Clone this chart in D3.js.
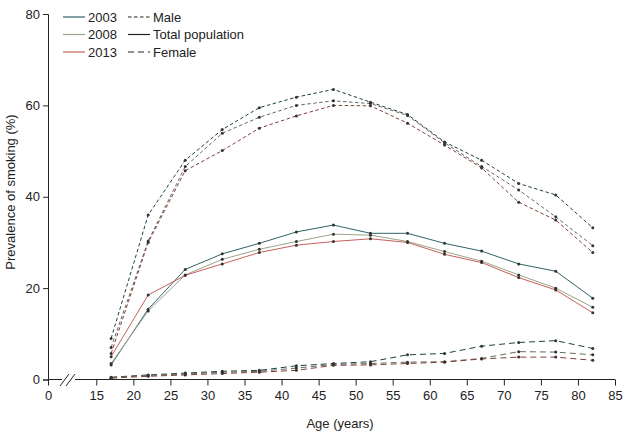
<!DOCTYPE html>
<html><head><meta charset="utf-8">
<script src="https://cdn.jsdelivr.net/npm/d3@7"></script>
<style>
body{margin:0;background:#fff;}
svg{display:block;}
text{font-family:"Liberation Sans",Arial,sans-serif;fill:#222;}
</style></head><body>
<svg id="c" width="640" height="441"></svg>
<script>
const ages = [17,22,27,32,37,42,47,52,57,62,67,72,77,82];
const years = ["2003","2008","2013"];
const yearColors = ["#2f6467","#9aa48c","#c8605a"];
const male2003 = [9.0,36.0,48.0,54.7,59.5,61.8,63.5,60.7,58.0,52.0,48.0,42.9,40.4,33.2];
const male2008 = [7.0,30.3,46.6,53.9,57.4,60.0,61.0,60.4,57.8,51.8,46.6,41.5,35.6,29.3];
const male2013 = [5.7,30.0,45.7,50.1,55.0,57.7,60.0,59.9,56.1,51.3,46.3,38.8,34.9,27.8];
const total2003 = [3.2,15.4,24.1,27.5,29.8,32.3,33.8,32.0,32.0,29.8,28.1,25.3,23.7,17.8];
const total2008 = [3.5,15.0,22.9,26.3,28.5,30.2,31.8,31.6,30.2,28.0,25.9,22.9,20.0,15.8];
const total2013 = [5.0,18.5,22.8,25.3,27.8,29.4,30.2,30.8,30.0,27.4,25.6,22.3,19.6,14.6];
const female2003 = [0.5,1.0,1.4,1.8,2.0,3.0,3.5,3.9,5.4,5.7,7.3,8.1,8.5,6.8];
const female2008 = [0.4,0.9,1.2,1.6,1.8,2.5,3.3,3.5,3.8,3.9,4.6,6.1,6.0,5.4];
const female2013 = [0.3,0.7,1.0,1.3,1.6,2.0,3.1,3.2,3.5,3.8,4.5,4.9,4.9,4.2];
const xTicks = [15,20,25,30,35,40,45,50,55,60,65,70,75,80,85];
const yTicks = [0,20,40,60,80];
const groups = ["Male","Total population","Female"];
const groupDash = ["3.5,2.5",null,"6,4"];

const svg = d3.select("#c");
const x = d3.scaleLinear().domain([15,85]).range([96.3,615]);
const x0 = d3.scaleLinear().domain([0,1]).range([48,85]);
const y = d3.scaleLinear().domain([0,80]).range([379.5,14]);

// y axis
const ya = svg.append("g").attr("transform","translate(48,0)")
  .call(d3.axisLeft(y).tickValues(yTicks).tickFormat(d3.format("d")).tickSize(5).tickPadding(3));
// x axis main
const xa = svg.append("g").attr("transform","translate(0,379.5)")
  .call(d3.axisBottom(x).tickValues(xTicks).tickFormat(d3.format("d")).tickSize(6).tickPadding(5));
xa.select(".domain").attr("d","M75,0H615");
const xz = svg.append("g").attr("transform","translate(0,379.5)")
  .call(d3.axisBottom(x0).tickValues([0]).tickFormat(d3.format("d")).tickSize(6).tickPadding(5));
xz.select(".domain").attr("d","M48,0H62");
svg.selectAll(".tick text").style("font-size","13px").style("font-family","'Liberation Sans',Arial,sans-serif").attr("fill","#222");
svg.selectAll(".domain, .tick line").attr("stroke","#222");
// break marks
[0,6].forEach(o=>{
  svg.append("line").attr("x1",60+o).attr("y1",386).attr("x2",69+o).attr("y2",374)
    .attr("stroke","#222").attr("stroke-width",1);
});

svg.append("text").attr("x",340).attr("y",428).attr("text-anchor","middle")
  .style("font-size","13px").text("Age (years)");
svg.append("text").attr("transform","translate(15,192) rotate(-90)")
  .attr("text-anchor","middle").style("font-size","13px").text("Prevalence of smoking (%)");

const series = [
  [male2003,0,0],[male2008,1,0],[male2013,2,0],
  [total2003,0,1],[total2008,1,1],[total2013,2,1],
  [female2003,0,2],[female2008,1,2],[female2013,2,2]
];
const line = d3.line().x((d,i)=>x(ages[i])).y(d=>y(d));
series.forEach(([vals,yi,gi])=>{
  svg.append("path").attr("d",line(vals)).attr("fill","none")
    .attr("stroke", gi===1 ? yearColors[yi] : d3.color(yearColors[yi]).darker(1.2))
    .attr("stroke-width",1)
    .attr("stroke-dasharray",groupDash[gi]);
  svg.append("g").selectAll("circle").data(vals).join("circle")
    .attr("cx",(d,i)=>x(ages[i])).attr("cy",d=>y(d)).attr("r",1.5).attr("fill","#333");
});

// legend
const lg = svg.append("g");
years.forEach((yr,i)=>{
  const yy = 17 + i*17.5;
  lg.append("line").attr("x1",63).attr("x2",85).attr("y1",yy).attr("y2",yy)
    .attr("stroke",yearColors[i]).attr("stroke-width",1.2);
  lg.append("text").attr("x",88).attr("y",yy+4.5).style("font-size","13px").text(yr);
  lg.append("line").attr("x1",128).attr("x2",150).attr("y1",yy).attr("y2",yy)
    .attr("stroke","#222").attr("stroke-width",1.2).attr("stroke-dasharray",groupDash[i]);
  lg.append("text").attr("x",153).attr("y",yy+4.5).style("font-size","13px").text(groups[i]);
});
</script>
</body></html>
